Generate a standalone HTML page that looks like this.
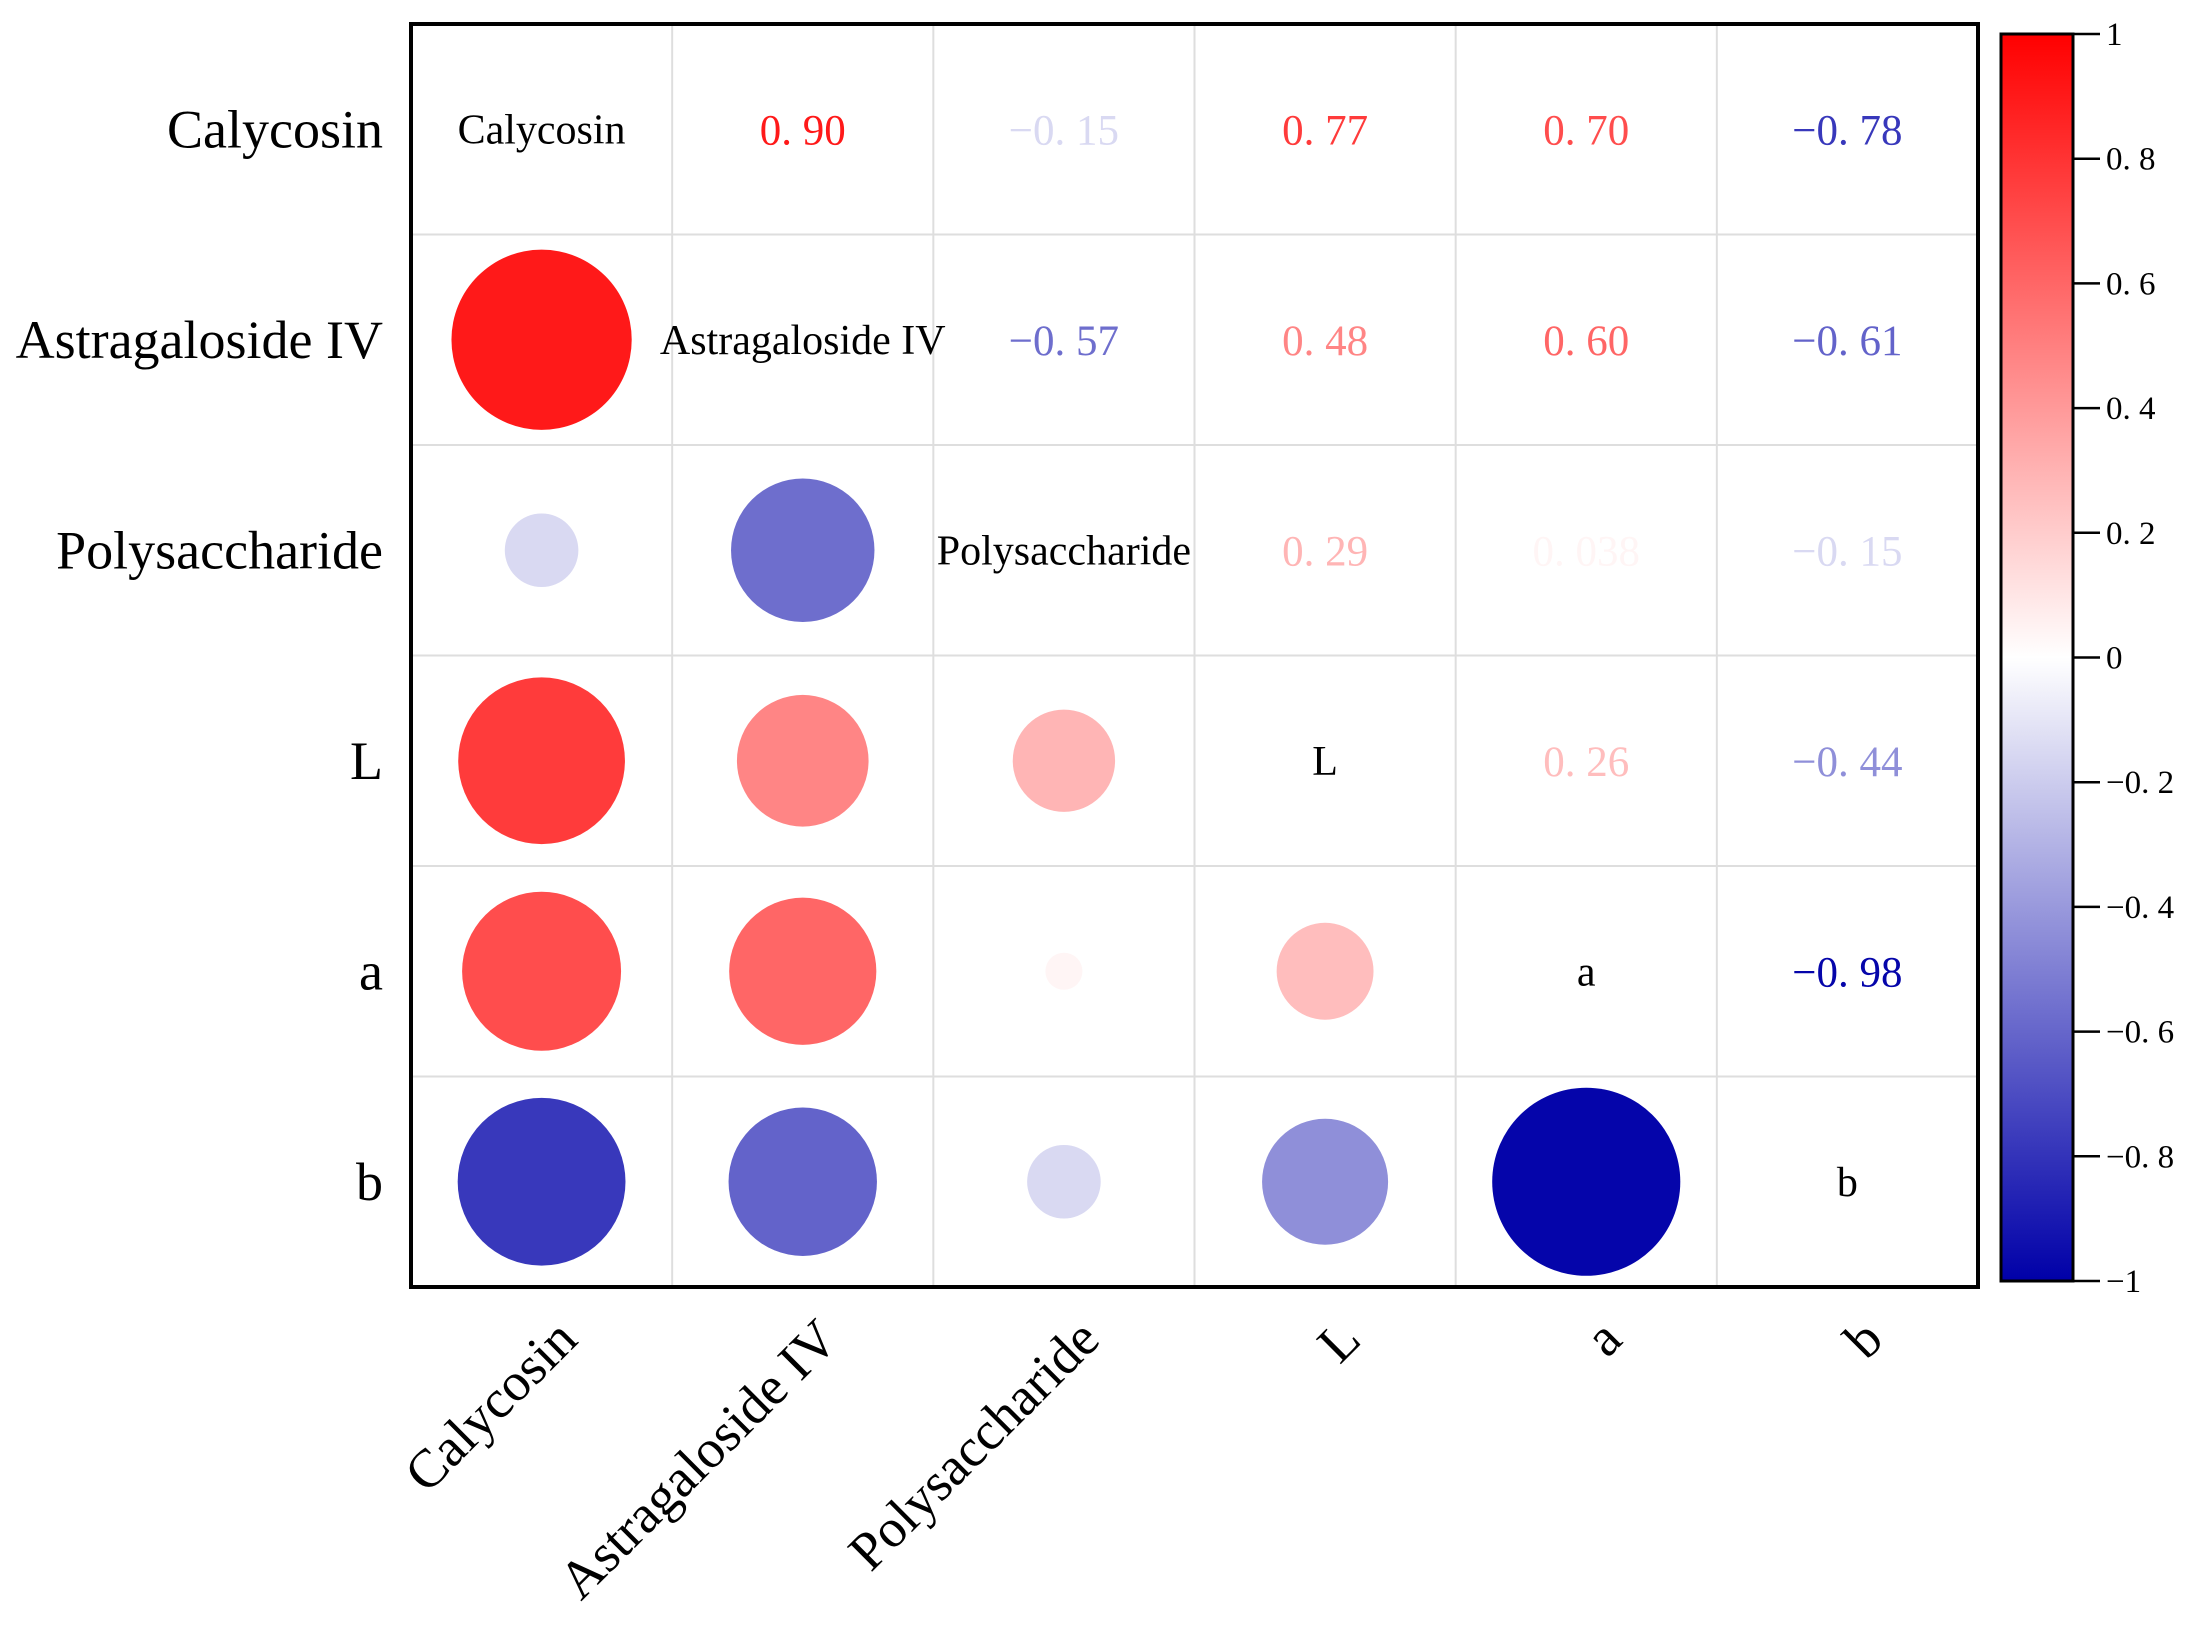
<!DOCTYPE html>
<html><head><meta charset="utf-8"><style>
html,body{margin:0;padding:0;background:#fff;}
svg{display:block;font-family:"Liberation Serif","Noto Serif CJK SC",serif;}
</style></head><body>
<svg id="chart" width="2199" height="1634" viewBox="0 0 2199 1634" xmlns="http://www.w3.org/2000/svg">
<defs>
<linearGradient id="cbgrad" x1="0" y1="0" x2="0" y2="1">
<stop offset="0" stop-color="#ff0000"/>
<stop offset="0.5" stop-color="#ffffff"/>
<stop offset="1" stop-color="#0000a8"/>
</linearGradient>
</defs>
<g id="grid"></g>
<g id="marks"></g>
<g id="labels"></g>
<g id="cbar"></g>
</svg>
<script>
const variables = ["Calycosin","Astragaloside IV","Polysaccharide","L","a","b"];
const corrRow0 = [1, 0.90, -0.15, 0.77, 0.70, -0.78];
const corrRow1 = [0.90, 1, -0.57, 0.48, 0.60, -0.61];
const corrRow2 = [-0.15, -0.57, 1, 0.29, 0.038, -0.15];
const corrRow3 = [0.77, 0.48, 0.29, 1, 0.26, -0.44];
const corrRow4 = [0.70, 0.60, 0.038, 0.26, 1, -0.98];
const corrRow5 = [-0.78, -0.61, -0.15, -0.44, -0.98, 1];
const corrLabels = ["0.90","-0.15","0.77","0.70","-0.78","-0.57","0.48","0.60","-0.61","0.29","0.038","-0.15","0.26","-0.44","-0.98"];
const cbTicks = [1,0.8,0.6,0.4,0.2,0,-0.2,-0.4,-0.6,-0.8,-1];
const cbTickLabels = ["1","0. 8","0. 6","0. 4","0. 2","0","\u22120. 2","\u22120. 4","\u22120. 6","\u22120. 8","\u22121"];

const matrix = [corrRow0,corrRow1,corrRow2,corrRow3,corrRow4,corrRow5];
const NS = "http://www.w3.org/2000/svg";
const L = 411, T = 24, R = 1978, B = 1287;
const n = variables.length;
const cw = (R-L)/n, ch = (B-T)/n;
const xC = i => L + cw*(i+0.5);
const yC = j => T + ch*(j+0.5);
const rScale = v => 95*Math.sqrt(Math.abs(v));
const cbTop = 34, cbBot = 1281, cbL = 2001, cbR = 2073;
const cbY = v => cbTop + (1-v)/2*(cbBot-cbTop);
function color(v){
  let r,g,b;
  if(v>=0){ r=255; g=Math.round(255*(1-v)); b=g; }
  else { const t=-v; r=Math.round(255*(1-t)); g=r; b=Math.round(255-(255-168)*t); }
  return `rgb(${r},${g},${b})`;
}
function mk(tag, attrs, parent){
  const e=document.createElementNS(NS,tag);
  for(const k in attrs) e.setAttribute(k,attrs[k]);
  parent.appendChild(e); return e;
}
function fmt(s){ return s.replace("-","\u2212").replace(".",". "); }
const grid=document.getElementById('grid'), marks=document.getElementById('marks'), labels=document.getElementById('labels'), cbar=document.getElementById('cbar');

for(let i=1;i<n;i++){
  const vl=mk('line',{x1:L+cw*i,x2:L+cw*i,y1:T,y2:B,stroke:'#dedede','stroke-width':2},grid);
  
  
  const hl=mk('line',{x1:L,x2:R,y1:T+ch*i,y2:T+ch*i,stroke:'#dedede','stroke-width':2},grid);
  
  
}
const frame=mk('rect',{x:L,y:T,width:R-L,height:B-T,fill:'none',stroke:'#000','stroke-width':4},grid);



let li=0;
for(let j=0;j<n;j++){
  for(let i=0;i<n;i++){
    const v=matrix[j][i];
    if(i===j){
      const t=mk('text',{x:xC(i),y:yC(j)+14,'text-anchor':'middle','font-size':42,fill:'#000'},labels);
      t.textContent=variables[i];
      
      
    } else if(i<j){
      const c=mk('circle',{cx:xC(i),cy:yC(j),r:rScale(v),fill:color(v)},marks);
      
      
    } else {
      const t=mk('text',{x:xC(i),y:yC(j)+15,'text-anchor':'middle','font-size':43,fill:color(v)},labels);
      t.textContent=fmt(corrLabels[li++]);
      
      
    }
  }
}
for(let j=0;j<n;j++){
  const t=mk('text',{x:383,y:yC(j)+18,'text-anchor':'end','font-size':54,fill:'#000'},labels);
  t.textContent=variables[j];
  
  
}
for(let i=0;i<n;i++){
  const x=xC(i)+38, y=1342;
  const t=mk('text',{x:x,y:y,'text-anchor':'end','font-size':54,fill:'#000',transform:`rotate(-45 ${x} ${y})`},labels);
  t.textContent=variables[i];
  
  
}
const cb=mk('rect',{x:cbL,y:cbTop,width:cbR-cbL,height:cbBot-cbTop,fill:'url(#cbgrad)',stroke:'#000','stroke-width':3},cbar);


cbTicks.forEach((v,k)=>{
  const y=cbY(v);
  const tl=mk('line',{x1:cbR,x2:cbR+27,y1:y,y2:y,stroke:'#000','stroke-width':2.5},cbar);
  
  
  const t=mk('text',{x:cbR+33,y:y+11,'font-size':33,fill:'#000'},cbar);
  t.textContent=cbTickLabels[k];
  
  
});
</script>
</body></html>
